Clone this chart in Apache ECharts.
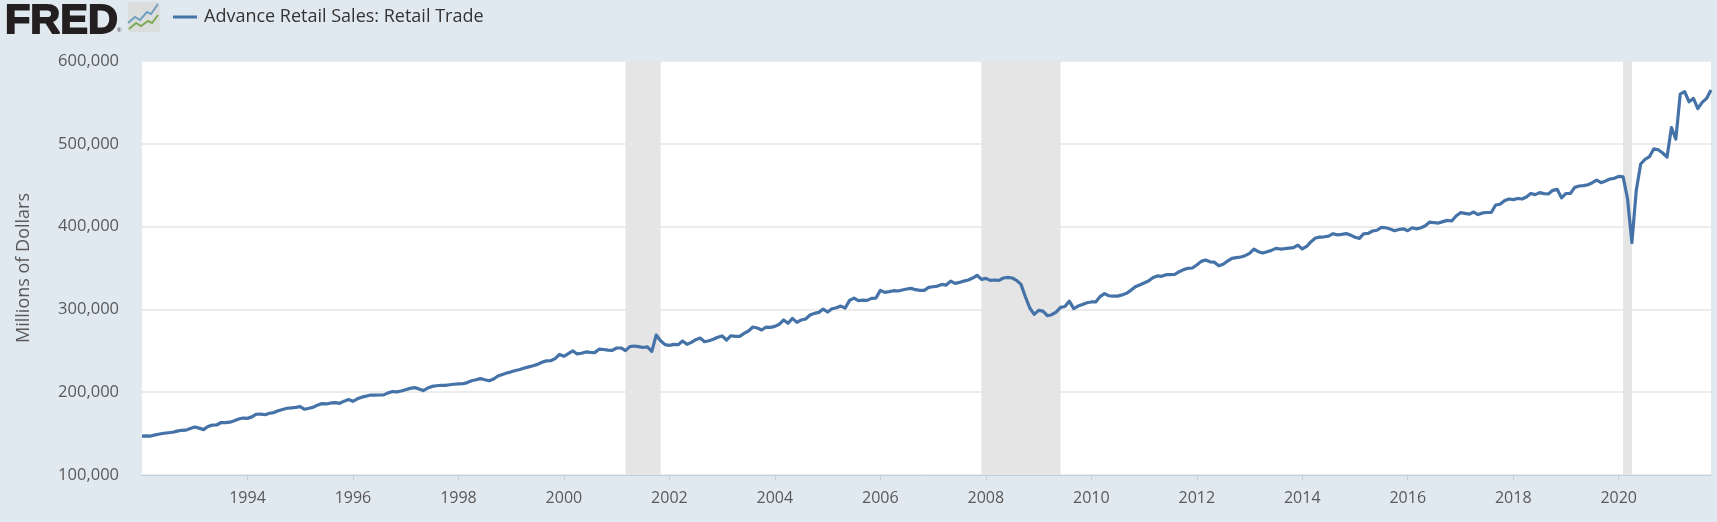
<!DOCTYPE html>
<html>
<head>
<meta charset="utf-8">
<style>html,body{margin:0;padding:0;background:#e1e9f0}#c{width:1717px;height:522px}</style>
<script src="https://cdn.jsdelivr.net/npm/echarts@6/dist/echarts.min.js"></script>
</head>
<body>
<div id="c"></div>
<script>
const seriesName = 'Advance Retail Sales: Retail Trade';
const yAxisTitle = 'Millions of Dollars';
const startYear = 1992;
const xTickYears = [1994,1996,1998,2000,2002,2004,2006,2008,2010,2012,2014,2016,2018,2020];
const recessionStarts = [2001 + 2/12, 2007 + 11/12, 2020 + 1/12];
const recessionEnds = [2001 + 10/12, 2009 + 5/12, 2020 + 3/12];
// Monthly values from Jan 1992, thousands of millions of dollars, one row per year
const retailSales = [
147.0,147.2,147.0,148.5,149.5,150.4,151.0,151.6,153.0,154.0,154.2,156.2,
158.0,156.6,154.8,158.6,160.2,160.4,163.4,163.2,163.8,165.6,167.6,168.8,
168.4,170.2,173.4,173.6,172.8,174.6,175.4,177.6,179.2,180.6,181.0,181.6,
182.6,179.4,180.6,182.0,184.6,186.2,185.8,187.0,187.4,186.6,189.2,191.2,
189.0,192.0,194.0,195.2,196.6,196.4,196.6,196.8,199.2,200.8,200.4,201.4,
203.0,204.6,205.6,204.0,202.0,205.0,207.0,207.8,208.4,208.2,209.0,209.6,
210.0,210.2,211.6,213.8,215.0,216.4,215.0,213.8,216.0,219.6,221.4,223.2,
224.6,226.2,227.4,229.2,230.6,232.0,233.6,236.2,237.8,238.0,240.6,245.6,
243.4,246.6,250.0,246.2,247.0,248.6,248.0,247.8,252.0,251.6,250.8,250.6,
253.4,253.4,250.2,255.0,255.8,255.0,254.0,254.7,249.4,269.0,262.2,257.4,
256.6,257.8,257.4,261.8,257.8,260.2,263.4,265.4,261.0,262.2,263.9,266.3,
267.9,263.0,268.2,267.5,267.5,271.0,273.9,278.7,277.5,275.1,278.7,278.3,
279.5,282.0,287.2,283.2,289.2,284.4,287.2,288.4,293.2,295.2,296.4,300.4,
296.8,300.8,302.0,304.0,301.6,310.9,313.7,310.5,311.3,310.9,313.3,313.7,
323.0,320.6,321.4,322.6,322.2,323.4,324.6,325.4,323.8,323.0,323.0,326.6,
327.4,328.2,330.2,329.4,334.2,331.4,332.6,334.2,335.5,337.9,341.2,336.3,
337.5,335.1,335.5,335.1,337.9,338.7,337.9,335.1,330.2,315.3,301.7,294.0,
298.9,298.0,292.4,293.6,296.8,302.5,303.5,310.0,301.0,304.0,306.0,308.0,
309.0,309.0,315.5,319.0,316.5,316.0,316.0,317.5,319.4,323.0,327.4,329.5,
331.9,334.3,338.3,340.4,340.0,341.9,341.9,342.3,345.5,348.0,349.6,350.0,
353.6,358.0,359.6,357.5,357.0,352.6,354.6,358.4,361.6,362.5,363.3,364.9,
367.7,372.9,369.7,368.0,369.7,371.3,373.7,372.9,373.3,374.0,374.5,377.6,
373.0,376.0,381.8,386.2,387.3,387.7,388.5,391.4,390.0,390.6,391.6,389.7,
387.2,385.8,391.4,391.8,394.7,395.6,399.0,398.6,397.0,395.0,396.5,397.3,
395.0,398.6,397.3,398.6,401.0,405.5,404.7,404.3,406.0,407.5,406.8,412.8,
416.8,416.0,415.0,417.6,414.5,416.5,417.0,417.0,426.1,427.0,431.3,433.3,
432.6,434.0,433.3,435.8,440.0,438.6,441.0,439.8,439.4,443.8,445.0,434.7,
440.0,440.0,447.4,449.0,449.5,450.6,453.0,456.0,453.0,455.0,457.5,458.3,
460.7,460.2,434.0,380.6,444.0,475.6,481.3,484.4,494.0,492.8,488.9,484.0,
519.7,505.7,560.0,562.9,550.8,554.8,542.4,550.0,554.8,565.0
];
const lineData = retailSales.map((v, i) => [startYear + i / 12, v * 1000]);
const endYear = lineData[lineData.length - 1][0];
const bands = recessionStarts.map((s, i) => [{xAxis: s}, {xAxis: recessionEnds[i]}]);

const chart = echarts.init(document.getElementById('c'), null, {renderer: 'canvas'});
chart.setOption({
  animation: false,
  backgroundColor: '#e1e9f0',
  textStyle: {fontFamily: '"Open Sans"'},
  grid: {left: 142, right: 6, top: 61, bottom: 47, show: true, backgroundColor: '#ffffff', borderWidth: 0},
  legend: {
    left: 168, top: 3, itemWidth: 24, itemHeight: 3,
    data: [{name: seriesName, icon: 'rect', itemStyle: {color: '#4572a7'}}],
    textStyle: {fontFamily: '"Open Sans"', fontSize: 18, color: '#333333', padding: [0, 0, 0, 2]}
  },
  xAxis: {
    type: 'value', min: startYear, max: endYear, interval: 2,
    splitLine: {show: false},
    axisLine: {show: true, lineStyle: {color: '#c0d0e0', width: 1}},
    axisTick: {show: true, length: 5, lineStyle: {color: '#c0d0e0'}, customValues: xTickYears},
    axisLabel: {
      color: '#595959', fontSize: 16, margin: 15, customValues: xTickYears,
      formatter: v => String(Math.round(v))
    }
  },
  yAxis: {
    type: 'value', min: 100000, max: 600000, interval: 100000,
    name: yAxisTitle, nameLocation: 'middle', nameGap: 109, nameRotate: 90,
    nameTextStyle: {color: '#595959', fontSize: 18, fontFamily: '"Open Sans"'},
    axisLine: {show: false}, axisTick: {show: false},
    splitLine: {show: true, lineStyle: {color: '#e6e6e6', width: 1.5}},
    axisLabel: {color: '#595959', fontSize: 16.5, margin: 23, formatter: v => v.toLocaleString('en-US')}
  },
  series: [{
    name: seriesName, type: 'line', data: lineData, showSymbol: false, symbol: 'none',
    smooth: false, z: 5,
    lineStyle: {color: '#4572a7', width: 3.2, join: 'round'},
    itemStyle: {color: '#4572a7'},
    markArea: {silent: true, z: 3, itemStyle: {color: '#e5e5e5', opacity: 1}, data: bands}
  }],
  graphic: [
    {type: 'text', left: 4, top: 0, style: {text: 'FRED', fontFamily: '"Liberation Sans"', fontWeight: 900, fontSize: 41.5, fill: '#231f20', stroke: '#231f20', lineWidth: 1.8}},
    {type: 'text', left: 117, top: 27, style: {text: '®', fontFamily: '"Liberation Sans"', fontSize: 6, fill: '#231f20'}},
    {type: 'rect', shape: {x: 128, y: 2, width: 32, height: 30, r: 3}, style: {fill: '#dcdedd'}},
    {type: 'polyline', shape: {points: [[128,23],[135,17],[140,20],[147,12],[151,14],[158,4]]}, style: {stroke: '#6f9fc0', lineWidth: 2, fill: null}},
    {type: 'polyline', shape: {points: [[129,29],[136,23],[141,26],[148,21],[152,23],[158,15]]}, style: {stroke: '#7eaa55', lineWidth: 2, fill: null}}
  ]
});
</script>
</body>
</html>
